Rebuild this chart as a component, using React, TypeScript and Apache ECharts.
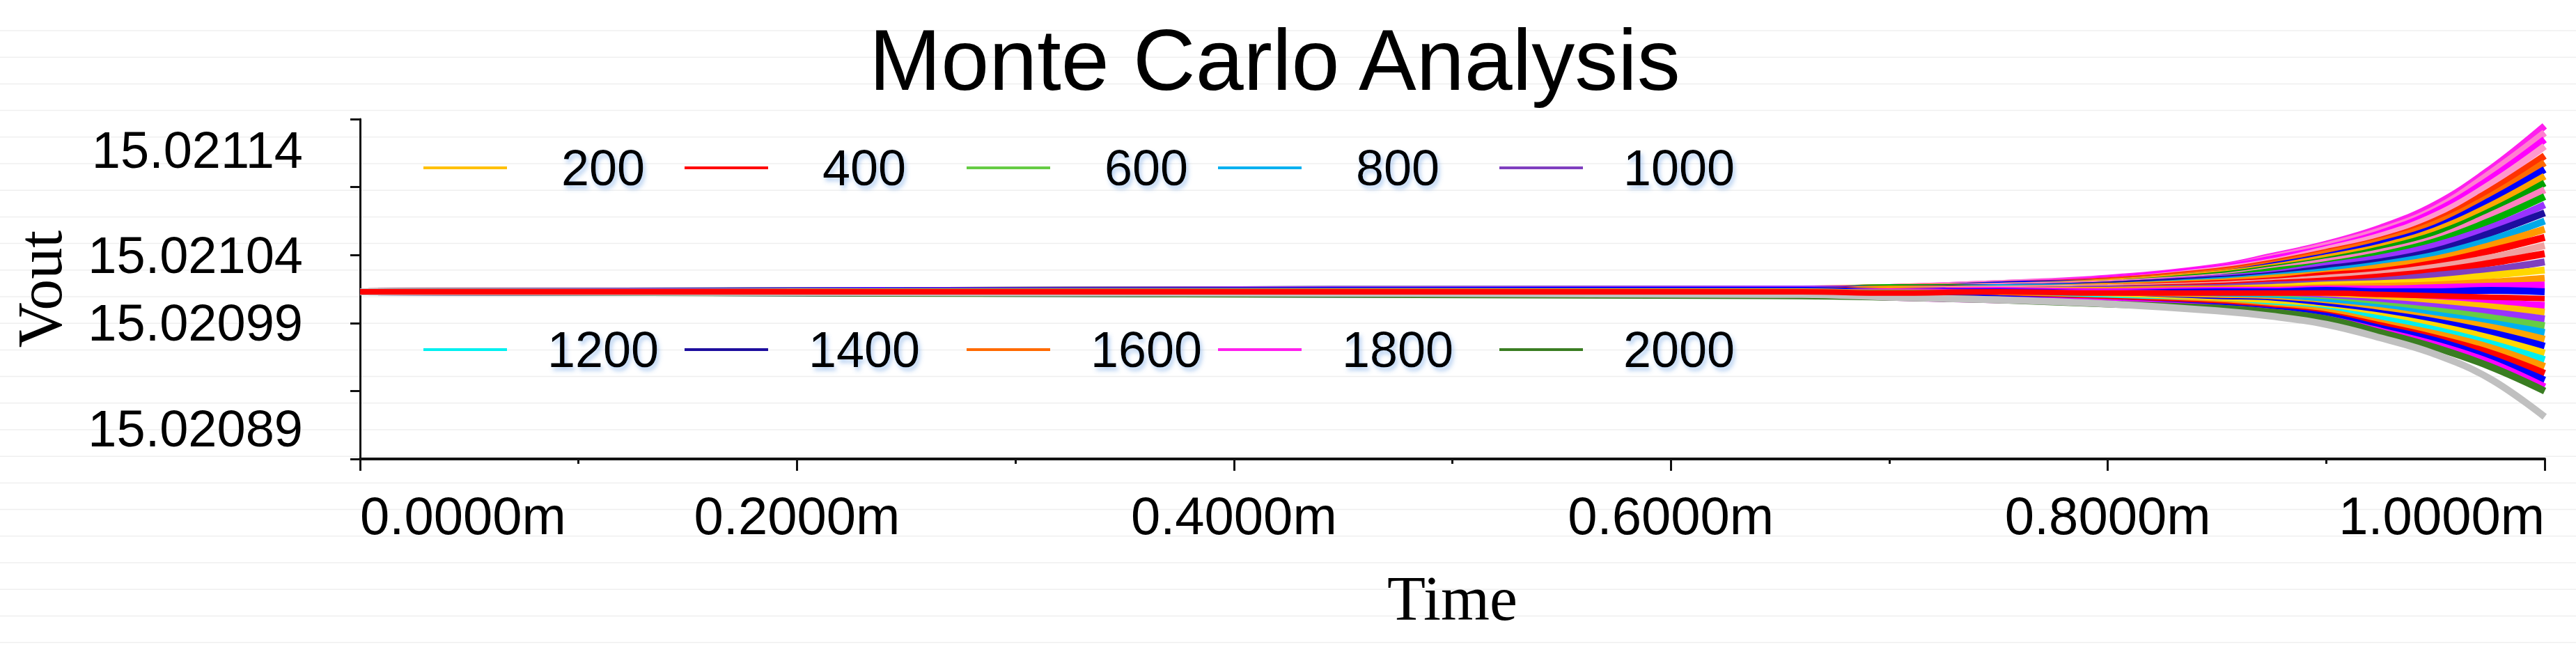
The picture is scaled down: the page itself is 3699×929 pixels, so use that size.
import React, { useEffect, useRef } from "react";
import * as echarts from "echarts";

// ---------- data ----------
const chartTitle = "Monte Carlo Analysis";
const xAxisName = "Time";
const yAxisName = "Vout";

// sample times (ms)
const timeMs = [0, 0.66, 0.7, 0.75, 0.8, 0.85, 0.875, 0.9, 0.925, 0.95, 0.975, 1.0];

// nominal output voltage (V); runs are stored as deviations from it in microvolts
const baseVout = 15.021013;

const runNames = [
  "1800", "run 2", "run 3", "run 4", "run 5", "1600", "run 7", "run 8", "run 9", "run 10",
  "run 11", "run 12", "1400", "run 14", "run 15", "run 16", "run 17", "run 18", "1000", "run 20",
  "run 21", "run 22", "run 23", "400", "run 25", "200", "run 27", "600", "800", "run 30",
  "run 31", "run 32", "1200", "run 34", "run 35", "run 36", "run 37", "2000", "run 39",
];

const runColors = [
  "#ff1fee", "#ff7fd0", "#ff00ff", "#ff99cc", "#ff3300", "#ff6a00", "#0000ff", "#ffa500", "#00a000", "#ff80c0",
  "#00b000", "#9933ff", "#1d0e9e", "#00a8e8", "#ff9900", "#ff0000", "#f0a0a0", "#ff0000", "#7f3fbf", "#ffd700",
  "#ff9900", "#ff00ff", "#0000ff", "#ff0000", "#ff00ff", "#ffc000", "#9933ff", "#66cc44", "#00b0f0", "#ffa500",
  "#0000ff", "#ffd700", "#00f0f0", "#ff9900", "#ff0000", "#0000ff", "#ff00ff", "#3a7d22", "#c0c0c0",
];

const runOffsetsUV = [
  [0, 1, 3, 6, 10, 18, 26, 35, 47, 64, 90, 122],
  [0, 2, 3, 6, 9, 17, 25, 34, 45, 61, 87, 117],
  [0, 1, 2, 5, 9, 17, 24, 32, 43, 59, 83, 112],
  [0, 2, 3, 5, 8, 16, 22, 31, 41, 56, 79, 107],
  [0, 1, 2, 5, 8, 15, 21, 29, 38, 52, 74, 100],
  [0, 2, 3, 4, 7, 14, 20, 28, 37, 50, 70, 95],
  [0, 1, 2, 5, 7, 13, 19, 26, 35, 47, 67, 90],
  [0, 1, 3, 4, 7, 13, 18, 25, 33, 45, 63, 85],
  [0, 2, 2, 4, 6, 12, 17, 23, 31, 42, 59, 80],
  [0, 1, 2, 4, 6, 11, 16, 22, 29, 39, 56, 75],
  [0, 1, 3, 3, 5, 10, 15, 20, 27, 37, 52, 70],
  [0, 2, 2, 3, 5, 10, 13, 19, 25, 34, 47, 64],
  [0, 1, 2, 3, 5, 9, 12, 17, 22, 30, 43, 58],
  [0, 1, 1, 3, 4, 8, 11, 15, 20, 27, 38, 52],
  [0, 0, 2, 2, 4, 7, 10, 13, 18, 24, 34, 46],
  [0, 1, 1, 2, 3, 6, 8, 12, 15, 21, 30, 40],
  [0, 0, 1, 2, 3, 5, 7, 10, 13, 18, 25, 34],
  [0, 1, 1, 1, 2, 4, 6, 8, 11, 15, 21, 28],
  [0, 0, 1, 1, 2, 3, 5, 6, 8, 12, 16, 22],
  [0, 1, 0, 1, 1, 2, 3, 5, 6, 8, 12, 16],
  [0, 0, 1, 0, 1, 2, 2, 3, 4, 5, 7, 10],
  [0, 0, 0, 1, 0, 1, 1, 2, 2, 3, 4, 5],
  [0, 1, 0, 0, -1, 0, 0, 1, 0, 0, 1, 0],
  [0, 0, -1, 0, -1, -1, -1, -1, -2, -3, -4, -5],
  [0, -1, 0, -1, -1, -2, -2, -3, -4, -6, -8, -10],
  [0, 0, -1, -1, -2, -3, -3, -4, -6, -8, -11, -15],
  [0, -1, -1, -2, -2, -3, -4, -6, -8, -11, -15, -20],
  [0, -1, -1, -2, -3, -4, -5, -7, -10, -14, -19, -25],
  [0, -1, -2, -2, -4, -5, -6, -8, -12, -17, -23, -30],
  [0, -1, -2, -3, -4, -6, -7, -10, -14, -20, -26, -35],
  [0, -2, -2, -3, -5, -7, -8, -11, -16, -22, -30, -40],
  [0, -1, -2, -4, -5, -8, -9, -13, -18, -25, -34, -45],
  [0, -2, -3, -4, -6, -9, -11, -14, -20, -28, -38, -50],
  [0, -2, -3, -4, -7, -9, -12, -15, -23, -31, -41, -55],
  [0, -2, -3, -5, -7, -10, -13, -17, -25, -34, -45, -60],
  [0, -2, -3, -5, -8, -11, -14, -18, -27, -36, -49, -65],
  [0, -2, -4, -6, -8, -12, -15, -20, -29, -39, -52, -70],
  [0, -3, -4, -6, -9, -12, -15, -20, -30, -41, -55, -73],
  [0, -2, -4, -6, -9, -14, -18, -24, -34, -46, -64, -92],
];

const legendRow1 = ["200", "400", "600", "800", "1000"];
const legendRow2 = ["1200", "1400", "1600", "1800", "2000"];

const yMin = 15.02089;
const yMax = 15.02114;
const yTickValues = [15.02089, 15.02094, 15.02099, 15.02104, 15.02109, 15.02114];
const yLabelValues = [15.02089, 15.02099, 15.02104, 15.02114];

const xMin = 0;
const xMax = 1;
const xStep = 0.2;

// ---------- styling ----------
const SANS = "'Liberation Sans', Arial, Helvetica, sans-serif";
const SERIF = "'Liberation Serif', 'Times New Roman', serif";
const AXIS_COLOR = "#111";
const legendCols = [608, 983, 1388, 1749, 2153];
const legendRowTops = [205, 466];

function makeLegend(name: string, left: number, top: number) {
  return {
    data: [name],
    left,
    top,
    padding: 0,
    icon: "rect",
    itemWidth: 120,
    itemHeight: 4,
    itemGap: 0,
    selectedMode: false,
    formatter: "{a|{name}}",
    textStyle: {
      rich: {
        a: {
          width: 266,
          align: "center",
          fontSize: 72,
          fontFamily: SANS,
          color: "#000",
          textShadowColor: "rgba(90,150,225,0.45)",
          textShadowBlur: 6,
          textShadowOffsetX: 3,
          textShadowOffsetY: 5,
        },
      },
    },
  };
}

export default function App() {
  const ref = useRef<HTMLDivElement>(null);

  useEffect(() => {
    if (!ref.current) return;
    const chart = echarts.init(ref.current, undefined, { renderer: "svg" });

    const series = runOffsetsUV.map((offs, i) => ({
      type: "line",
      name: runNames[i],
      data: timeMs.map((t, j) => [t, +(baseVout + offs[j] * 1e-6).toFixed(7)]),
      symbol: "none",
      showSymbol: false,
      smooth: 0.4,
      silent: true,
      z: runNames[i] === "400" ? 5 : 2,
      lineStyle: { width: runNames[i] === "400" ? 8 : 10, color: runColors[i] },
      itemStyle: { color: runColors[i] },
    }));

    const stripes: any[] = [];
    for (let k = 0; k < 24; k++) {
      const y = 44 + k * 38.2;
      stripes.push({
        type: "line",
        silent: true,
        z: -10,
        shape: { x1: 0, y1: y, x2: 3699, y2: y },
        style: { stroke: "#efefef", lineWidth: 1.5 },
      });
    }

    chart.setOption({
      animation: false,
      backgroundColor: "#ffffff",
      title: {
        text: chartTitle,
        left: 1248,
        top: 24,
        padding: 0,
        textStyle: { fontSize: 124, fontWeight: "normal", fontFamily: SANS, color: "#000" },
      },
      graphic: stripes,
      legend: [
        ...legendRow1.map((n, i) => makeLegend(n, legendCols[i], legendRowTops[0])),
        ...legendRow2.map((n, i) => makeLegend(n, legendCols[i], legendRowTops[1])),
      ],
      grid: { left: 517, top: 171, width: 3137, height: 488, containLabel: false },
      xAxis: {
        type: "value",
        min: xMin,
        max: xMax,
        interval: xStep,
        name: xAxisName,
        nameLocation: "middle",
        nameGap: 155,
        nameTextStyle: { fontSize: 90, fontFamily: SERIF, color: "#000" },
        axisLine: { show: true, lineStyle: { color: AXIS_COLOR, width: 4 } },
        axisTick: { show: true, length: 17, lineStyle: { color: AXIS_COLOR, width: 3 } },
        minorTick: { show: true, splitNumber: 2, length: 7, lineStyle: { color: AXIS_COLOR, width: 3 } },
        axisLabel: {
          formatter: (v: number) => v.toFixed(4) + "m",
          fontSize: 76,
          fontFamily: SANS,
          color: "#000",
          margin: 43,
          alignMinLabel: "left",
          alignMaxLabel: "right",
        },
        splitLine: { show: false },
        minorSplitLine: { show: false },
      },
      yAxis: {
        type: "value",
        min: yMin,
        max: yMax,
        name: yAxisName,
        nameLocation: "middle",
        nameGap: 415,
        nameTextStyle: { fontSize: 90, fontFamily: SERIF, color: "#000" },
        axisLine: { show: true, lineStyle: { color: AXIS_COLOR, width: 3 } },
        axisTick: { show: true, length: 14, customValues: yTickValues, lineStyle: { color: AXIS_COLOR, width: 3 } },
        axisLabel: {
          customValues: yLabelValues,
          formatter: (v: number) => v.toFixed(5),
          fontSize: 74,
          lineHeight: 88,
          fontFamily: SANS,
          color: "#000",
          margin: 82,
          verticalAlignMaxLabel: "top",
          verticalAlignMinLabel: "bottom",
        },
        splitLine: { show: false },
      },
      series,
    });

    return () => chart.dispose();
  }, []);

  return (
    <div
      ref={ref}
      style={{ position: "fixed", left: 0, top: 0, width: 3699, height: 929, background: "#fff" }}
    />
  );
}
